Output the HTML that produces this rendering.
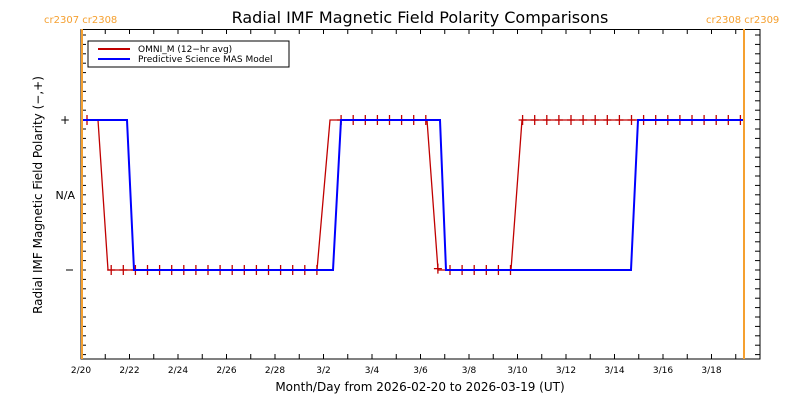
<!DOCTYPE html>
<html><head><style>body{margin:0;background:#fff}svg{display:block}text{font-family:"DejaVu Sans","Liberation Sans",sans-serif}</style></head>
<body>
<svg id="s" width="800" height="400" xmlns="http://www.w3.org/2000/svg">
<rect width="800" height="400" fill="#fff"/>
<text x="420" y="23" font-size="16" text-anchor="middle" fill="#000">Radial IMF Magnetic Field Polarity Comparisons</text>
<text x="44" y="23" font-size="10" fill="#f5a030">cr2307 cr2308</text>
<text x="706" y="23" font-size="10" fill="#f5a030">cr2308 cr2309</text>
<g id="ax" stroke="#000" stroke-width="1" fill="none"><rect x="81" y="29.5" width="679" height="329.5"/></g>
<g id="tk" stroke="#000" stroke-width="1"></g>
<g font-size="9" fill="#000" text-anchor="middle" id="xl"></g>
<text x="70" y="124" font-size="12" text-anchor="end">+</text>
<text x="75" y="199" font-size="11" text-anchor="end">N/A</text>
<line x1="66" y1="270" x2="73" y2="270" stroke="#000"/>
<text x="42" y="195" font-size="12" text-anchor="middle" transform="rotate(-90 42 195)">Radial IMF Magnetic Field Polarity (−,+)</text>
<text x="420" y="391" font-size="12" text-anchor="middle">Month/Day from 2026-02-20 to 2026-03-19 (UT)</text>
<g id="mk" stroke="#c00000" stroke-width="1.3"></g>
<polyline fill="none" stroke="#c00000" stroke-width="1.3" points="81,120 98,120 108,270 317,270 330,120 427,120 438,270 511,270 522,120 744,120"/>
<polyline fill="none" stroke="#0000ff" stroke-width="2" points="81,120 127,120 134,270 333,270 341,120 440,120 446,270 631,270 638,120 744,120"/>
<line x1="82" y1="29" x2="82" y2="359" stroke="#f5a030" stroke-width="2"/>
<line x1="744" y1="29" x2="744" y2="359" stroke="#f5a030" stroke-width="2"/>
<rect x="88" y="41" width="201" height="26" fill="#fff" stroke="#000"/>
<line x1="98" y1="49" x2="130" y2="49" stroke="#c00000" stroke-width="2"/>
<line x1="98" y1="59" x2="130" y2="59" stroke="#0000ff" stroke-width="2"/>
<text x="138" y="52" font-size="9">OMNI_M (12−hr avg)</text>
<text x="138" y="62" font-size="9">Predictive Science MAS Model</text>
</svg>
<script>
var NS="http://www.w3.org/2000/svg";
function el(p,t,a,tx){var e=document.createElementNS(NS,t);for(var k in a)e.setAttribute(k,a[k]);if(tx)e.textContent=tx;document.getElementById(p).appendChild(e);}
var d=24.25;
var labs=["2/20","2/22","2/24","2/26","2/28","3/2","3/4","3/6","3/8","3/10","3/12","3/14","3/16","3/18"];
for(var i=0;i<=28;i++){var x=81+i*d;el("tk","line",{x1:x,y1:359,x2:x,y2:354});el("tk","line",{x1:x,y1:29,x2:x,y2:34});
 if(i%2==0&&i/2<labs.length)el("xl","text",{x:x,y:373},labs[i/2]);}
for(var y=270;y>30;y-=9.4){el("tk","line",{x1:81,y1:y,x2:86,y2:y});el("tk","line",{x1:760,y1:y,x2:755,y2:y});}
for(var y=270+9.4;y<359;y+=9.4){el("tk","line",{x1:81,y1:y,x2:86,y2:y});el("tk","line",{x1:760,y1:y,x2:755,y2:y});}
var P=[[81,120],[98,120],[108,270],[317,270],[330,120],[427,120],[438,270],[511,270],[522,120],[744,120]];
function f(x){for(var i=0;i<P.length-1;i++){if(x>=P[i][0]&&x<=P[i+1][0]){var t=(x-P[i][0])/(P[i+1][0]-P[i][0]);return P[i][1]+t*(P[i+1][1]-P[i][1]);}}return 120;}
for(var k=0;k<=56;k++){var x=87+k*12.1;if(x>745)break;var y=f(x);
 if(Math.abs(y-120)>3&&Math.abs(y-270)>3)continue;
 el("mk","line",{x1:x,y1:y-5,x2:x,y2:y+5});el("mk","line",{x1:x-4,y1:y,x2:x+4,y2:y});}
</script>
</body></html>
